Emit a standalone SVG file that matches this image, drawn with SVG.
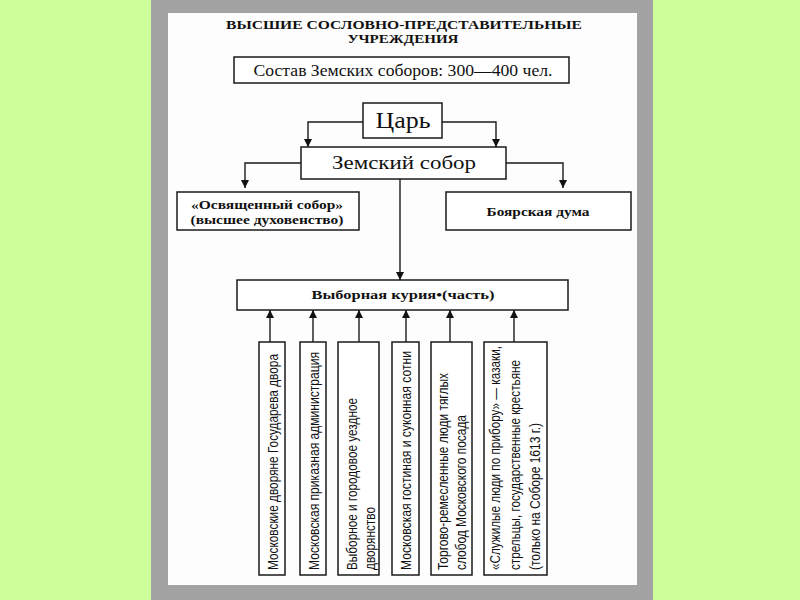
<svg xmlns="http://www.w3.org/2000/svg" width="800" height="600" viewBox="0 0 800 600">
<defs>
<marker id="ah" viewBox="0 0 10 10" refX="10" refY="5" markerWidth="8" markerHeight="8" markerUnits="userSpaceOnUse" orient="auto">
<path d="M0,0 L10,5 L0,10 z" fill="#111"/>
</marker>
<style>
.box{fill:#fff;stroke:#1a1a1a;stroke-width:1.5}
.con{fill:none;stroke:#1a1a1a;stroke-width:1.4;marker-end:url(#ah)}
.serif{font-family:"Liberation Serif","Times New Roman",serif;fill:#111}
.b{font-weight:bold}
.v{font-family:"Liberation Sans Narrow","Liberation Sans",Arial,sans-serif;font-size:14px;fill:#111}
</style>
</defs>
<rect x="0" y="0" width="800" height="600" fill="#ccff99"/>
<rect x="151" y="0" width="502" height="600" fill="#a3a3a3"/>
<rect x="168" y="13" width="469" height="572" fill="#fdfdfd"/>

<g id="title">
<text class="serif b" x="404" y="29" font-size="13" text-anchor="middle" textLength="356" lengthAdjust="spacingAndGlyphs">ВЫСШИЕ СОСЛОВНО-ПРЕДСТАВИТЕЛЬНЫЕ</text>
<text class="serif b" x="403" y="43" font-size="13" text-anchor="middle" textLength="111" lengthAdjust="spacingAndGlyphs">УЧРЕЖДЕНИЯ</text>
</g>

<g id="sostav">
<rect class="box" x="234" y="57" width="335" height="26"/>
<text class="serif" x="403" y="76" font-size="16" text-anchor="middle" textLength="299" lengthAdjust="spacingAndGlyphs">Состав Земских соборов: 300—400 чел.</text>
</g>

<g id="tsar">
<rect class="box" x="363" y="103" width="79" height="35"/>
<text class="serif" x="403" y="128" font-size="24" text-anchor="middle" textLength="55" lengthAdjust="spacingAndGlyphs">Царь</text>
</g>

<g id="zemsky">
<rect class="box" x="301" y="147" width="205" height="32"/>
<text class="serif" x="404" y="169" font-size="19" text-anchor="middle" textLength="144" lengthAdjust="spacingAndGlyphs">Земский собор</text>
</g>

<g id="osv">
<rect class="box" x="177" y="192" width="182" height="38"/>
<text class="serif b" x="267" y="209" font-size="13" text-anchor="middle" textLength="152" lengthAdjust="spacingAndGlyphs">«Освященный собор»</text>
<text class="serif b" x="267" y="224" font-size="13" text-anchor="middle" textLength="153" lengthAdjust="spacingAndGlyphs">(высшее духовенство)</text>
</g>

<g id="duma">
<rect class="box" x="446" y="192" width="185" height="38"/>
<text class="serif b" x="538" y="216" font-size="13" text-anchor="middle" textLength="103" lengthAdjust="spacingAndGlyphs">Боярская дума</text>
</g>

<g id="kuria">
<rect class="box" x="237" y="280" width="331" height="30"/>
<text class="serif b" x="403" y="299" font-size="13" text-anchor="middle" textLength="183" lengthAdjust="spacingAndGlyphs">Выборная курия•(часть)</text>
</g>

<g id="connectors">
<path class="con" d="M363,122 H308 V147"/>
<path class="con" d="M442,122 H496 V147"/>
<path class="con" d="M301,163 H245 V188"/>
<path class="con" d="M506,163 H563 V188"/>
<path class="con" d="M400,179 V280"/>
<path class="con" d="M270,342 V310"/>
<path class="con" d="M313,342 V310"/>
<path class="con" d="M359,342 V310"/>
<path class="con" d="M406,342 V310"/>
<path class="con" d="M450,342 V310"/>
<path class="con" d="M514,342 V310"/>
</g>

<g id="b1">
<rect class="box" x="259" y="342" width="26" height="233"/>
<text class="v" transform="translate(277.5,570) rotate(-90)" textLength="216" lengthAdjust="spacingAndGlyphs">Московские дворяне Государева двора</text>
</g>
<g id="b2">
<rect class="box" x="300" y="342" width="26" height="233"/>
<text class="v" transform="translate(318.5,570) rotate(-90)" textLength="218" lengthAdjust="spacingAndGlyphs">Московская приказная администрация</text>
</g>
<g id="b3">
<rect class="box" x="338" y="342" width="41" height="233"/>
<text class="v" transform="translate(356.5,570) rotate(-90)" textLength="172" lengthAdjust="spacingAndGlyphs">Выборное и городовое уездное</text>
<text class="v" transform="translate(375,570) rotate(-90)" textLength="63" lengthAdjust="spacingAndGlyphs">дворянство</text>
</g>
<g id="b4">
<rect class="box" x="392" y="342" width="27" height="233"/>
<text class="v" transform="translate(410.5,570) rotate(-90)" textLength="219" lengthAdjust="spacingAndGlyphs">Московская гостиная и суконная сотни</text>
</g>
<g id="b5">
<rect class="box" x="431" y="342" width="41" height="233"/>
<text class="v" transform="translate(447.5,570) rotate(-90)" textLength="197" lengthAdjust="spacingAndGlyphs">Торгово-ремесленные люди тяглых</text>
<text class="v" transform="translate(465.5,570) rotate(-90)" textLength="155" lengthAdjust="spacingAndGlyphs">слобод Московского посада</text>
</g>
<g id="b6">
<rect class="box" x="484" y="342" width="63" height="233"/>
<text class="v" transform="translate(499.5,570) rotate(-90)" textLength="224" lengthAdjust="spacingAndGlyphs">«Служилые люди по прибору» — казаки,</text>
<text class="v" transform="translate(519.5,570) rotate(-90)" textLength="210" lengthAdjust="spacingAndGlyphs">стрельцы, государственные крестьяне</text>
<text class="v" transform="translate(540,570) rotate(-90)" textLength="147" lengthAdjust="spacingAndGlyphs">(только на Соборе 1613 г.)</text>
</g>
</svg>
